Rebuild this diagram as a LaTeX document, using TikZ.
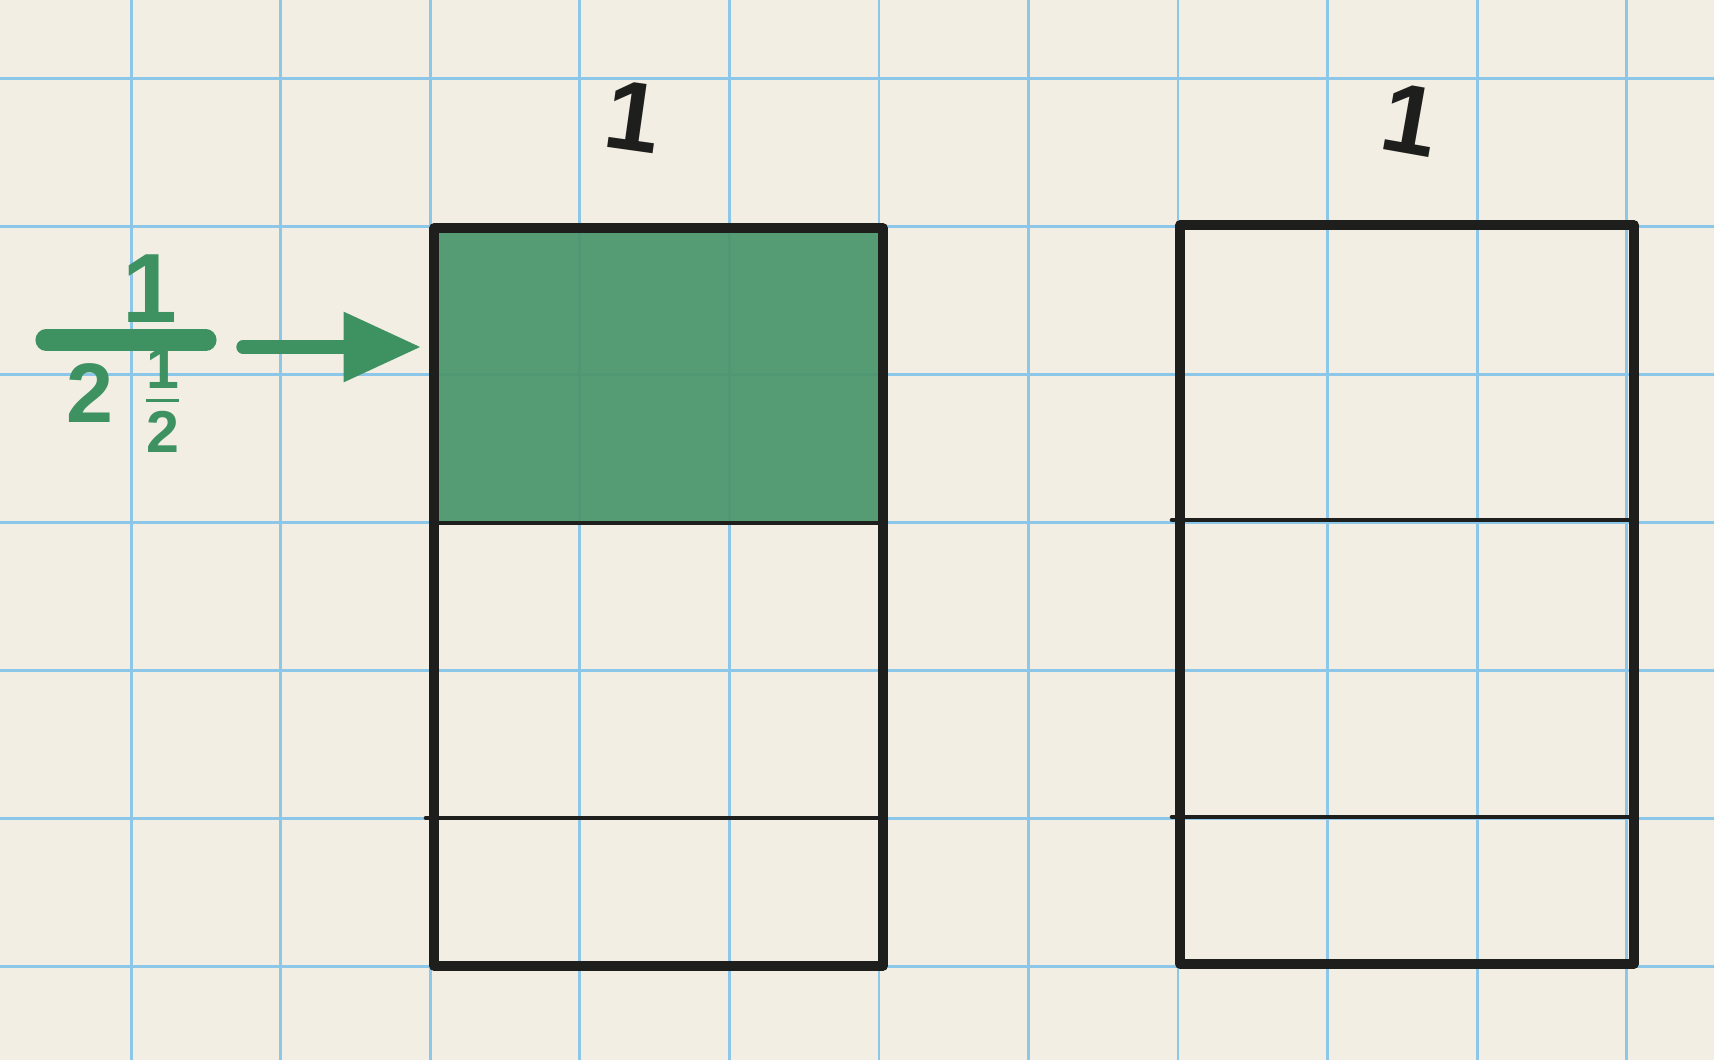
\documentclass[tikz,border=0pt]{standalone}
\usepackage{amsmath}
\usepackage{fontspec}
\setmainfont{Liberation Sans}
\usetikzlibrary{arrows.meta}
\definecolor{paper}{RGB}{243,238,227}
\definecolor{gridblue}{RGB}{140,198,232}
\definecolor{crayon}{RGB}{76,150,108}
\definecolor{pencil}{RGB}{62,146,98}
\definecolor{ink}{RGB}{30,30,28}
\begin{document}
\begin{tikzpicture}[x=0.01cm, y=-0.01cm, line cap=round, line join=round,
    gridline/.style={draw=gridblue, line width=0.8pt},
    frame/.style={draw=ink, line width=2.6pt},
    split/.style={draw=ink, line width=1.3pt},
    one/.style={text=ink, font=\bfseries\fontsize{28}{30}\selectfont, inner sep=0pt},
    hand/.style={text=pencil, font=\bfseries\fontsize{28}{30}\selectfont, inner sep=0pt},
    bar/.style={draw=pencil, line width=6pt},
    pointer/.style={draw=pencil, line width=3.8pt, -{Triangle[length=22pt,width=19pt]}}]
  \fill[paper] (0,0) rectangle (1714,1060);
  \useasboundingbox (0,0) rectangle (1714,1060);
  \foreach \i in {0,...,10}
    \draw[gridline] ({131.2+149.55*\i},0) -- ++(0,1060);
  \foreach \j in {0,...,6}
    \draw[gridline] (0,{78.7+147.93*\j}) -- ++(1714,0);
  \fill[crayon, fill opacity=0.94] (434,228) rectangle (883,523);
  \draw[frame] (434,228) rectangle (883,966);
  \draw[split] (434,523) -- (883,523);
  \draw[split] (426,818) -- (883,818);
  \draw[frame] (1180,225) rectangle (1634,964);
  \draw[split] (1172,520) -- (1634,520);
  \draw[split] (1172,817) -- (1630,817);
  \node[one, rotate=-8] (oneL) at (633,117) {1};
  \node[one, rotate=-10] (oneR) at (1410,120) {1};
  \node[hand] (num) at (150,289) {1};
  \draw[bar] (46,340) coordinate (barL) -- (206,340) coordinate (barR);
  \node[hand, font=\bfseries\fontsize{24}{26}\selectfont] (den) at (125,400) {2\hspace{8pt}$\frac{\text{1}}{\text{2}}$};
  \coordinate (tail) at (243,347);
  \coordinate (tip) at (421,347);
  \draw[pointer] (tail) -- (tip);
\end{tikzpicture}
\end{document}
